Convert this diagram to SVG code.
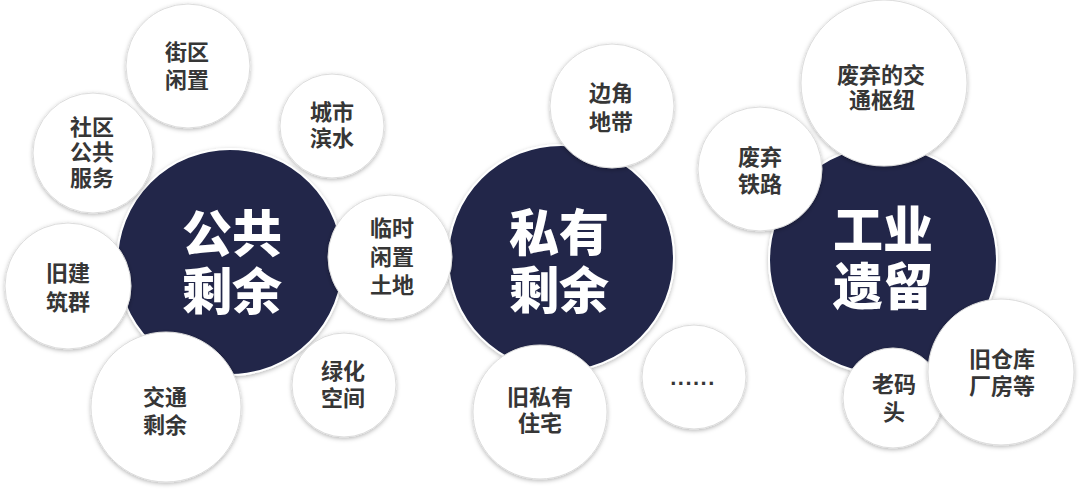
<svg xmlns="http://www.w3.org/2000/svg" width="1080" height="494" viewBox="0 0 1080 494">
<defs>
<filter id="sh" x="-20%" y="-20%" width="140%" height="140%">
<feDropShadow dx="0" dy="1.5" stdDeviation="2" flood-color="#000" flood-opacity="0.28"/>
</filter>
</defs>
<style>
.big{fill:#20264a;stroke:#ffffff;stroke-width:2;filter:url(#sh)}
.sm{fill:#ffffff;stroke:#dcdcdc;stroke-width:1;filter:url(#sh)}
.bt{font-family:"Noto Sans CJK SC","Noto Sans",sans-serif;font-weight:900;font-size:50px;fill:#ffffff;text-anchor:middle}
.st{font-family:"Noto Sans CJK SC","Noto Sans",sans-serif;font-weight:700;font-size:22px;fill:#363636;text-anchor:middle}
.dots{font-family:"Liberation Sans",sans-serif;font-weight:700;font-size:22px;fill:#363636;text-anchor:middle;letter-spacing:1.5px}
</style>
<rect width="1080" height="494" fill="#ffffff"/>
<g id="connectors"></g>

<g id="n-public">
<circle class="big" cx="230" cy="262" r="113"/>
<text class="bt" x="232" y="252">公共</text>
<text class="bt" x="232" y="310">剩余</text>
</g>
<g id="n-private">
<circle class="big" cx="561" cy="258" r="113"/>
<text class="bt" x="559" y="251">私有</text>
<text class="bt" x="559" y="309">剩余</text>
</g>
<g id="n-industrial">
<circle class="big" cx="883" cy="260" r="114"/>
<text class="bt" x="883" y="248">工业</text>
<text class="bt" x="883" y="305">遗留</text>
</g>

<g id="n-jiequ">
<circle class="sm" cx="188" cy="66" r="62"/>
<text class="st" x="187" y="60">街区</text>
<text class="st" x="187" y="88">闲置</text>
</g>
<g id="n-shequ">
<circle class="sm" cx="93" cy="153" r="60"/>
<text class="st" x="92" y="135">社区</text>
<text class="st" x="92" y="160">公共</text>
<text class="st" x="92" y="186">服务</text>
</g>
<g id="n-chengshi">
<circle class="sm" cx="332" cy="126" r="52"/>
<text class="st" x="332" y="120">城市</text>
<text class="st" x="332" y="146">滨水</text>
</g>
<g id="n-linshi">
<circle class="sm" cx="390" cy="257" r="62"/>
<text class="st" x="392" y="236">临时</text>
<text class="st" x="392" y="265">闲置</text>
<text class="st" x="392" y="293">土地</text>
</g>
<g id="n-jiujian">
<circle class="sm" cx="68" cy="286" r="63"/>
<text class="st" x="68" y="281">旧建</text>
<text class="st" x="68" y="310">筑群</text>
</g>
<g id="n-jiaotong">
<circle class="sm" cx="166" cy="407" r="75"/>
<text class="st" x="165" y="405">交通</text>
<text class="st" x="165" y="433">剩余</text>
</g>
<g id="n-lvhua">
<circle class="sm" cx="344" cy="385" r="52"/>
<text class="st" x="343" y="379">绿化</text>
<text class="st" x="343" y="406">空间</text>
</g>

<g id="n-bianjiao">
<circle class="sm" cx="612" cy="106" r="62"/>
<text class="st" x="611" y="101">边角</text>
<text class="st" x="611" y="130">地带</text>
</g>
<g id="n-jiusiyou">
<circle class="sm" cx="540" cy="412" r="67"/>
<text class="st" x="540" y="405">旧私有</text>
<text class="st" x="540" y="431">住宅</text>
</g>
<g id="n-etc">
<circle class="sm" cx="694" cy="377" r="52"/>
<text class="dots" x="693" y="385">......</text>
</g>

<g id="n-jiaotongshuniu">
<circle class="sm" cx="884" cy="83" r="83"/>
<text class="st" x="881" y="83">废弃的交</text>
<text class="st" x="882" y="108">通枢纽</text>
</g>
<g id="n-tielu">
<circle class="sm" cx="760" cy="169" r="62"/>
<text class="st" x="760" y="165">废弃</text>
<text class="st" x="760" y="192">铁路</text>
</g>
<g id="n-matou">
<circle class="sm" cx="893" cy="398" r="50"/>
<text class="st" x="894" y="392">老码</text>
<text class="st" x="894" y="420">头</text>
</g>
<g id="n-cangku">
<circle class="sm" cx="1001" cy="372" r="73"/>
<text class="st" x="1002" y="367">旧仓库</text>
<text class="st" x="1002" y="394">厂房等</text>
</g>
</svg>
